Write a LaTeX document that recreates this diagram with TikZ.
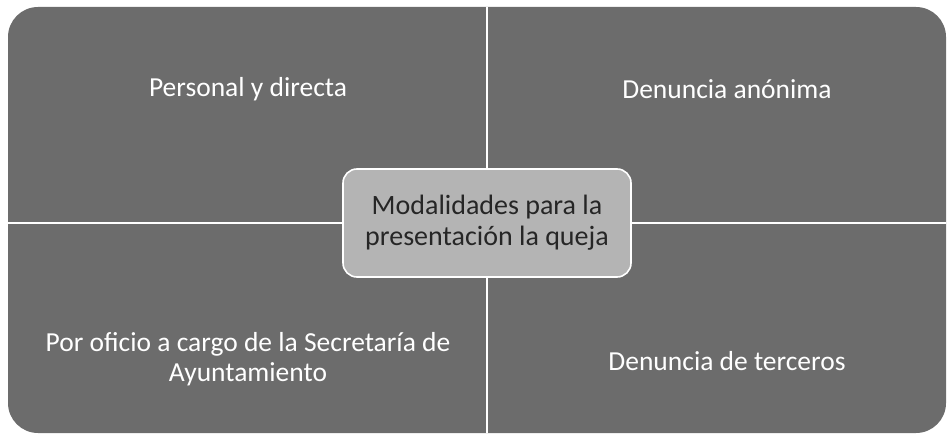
\documentclass[tikz,border=0pt]{standalone}
\usepackage{fontspec}
\setmainfont{Carlito}
\usetikzlibrary{positioning}

\definecolor{quadgray}{HTML}{6C6C6C}
\definecolor{hubgray}{HTML}{B4B4B4}
\tikzset{
  quadlabel/.style={text=white, font=\fontsize{27.5}{30}\selectfont, align=center},
  hubbox/.style={draw=white, line width=1.6pt, fill=hubgray, rounded corners=14pt,
    minimum width=288pt, minimum height=108pt, text=black!85,
    font=\fontsize{28}{31}\selectfont, align=center},
  divider/.style={white, line width=1.4pt}
}

\begin{document}
\begin{tikzpicture}[x=1pt, y=-1pt]
    \useasboundingbox (0,0) rectangle (952,435);

    \node[fill=quadgray, rounded corners=30pt, minimum width=938pt, minimum height=426pt] (bg) at (477,220) {};

    \node[hubbox] (hub) at (487,223) {Modalidades para la\\presentación la queja};

    % separators between the four fields
    \draw[divider] (hub.north) -- (hub.north |- bg.north);
    \draw[divider] (hub.south) -- (hub.south |- bg.south);
    \draw[divider] (hub.west) -- (hub.west -| bg.west);
    \draw[divider] (hub.east) -- (hub.east -| bg.east);

    \node[quadlabel] (pers) at (248,89) {Personal y directa};
    \node[quadlabel] (anon) at (727,89) {Denuncia anónima};
    \node[quadlabel] (ofic) at (248,359) {Por oficio a cargo de la Secretaría de\\Ayuntamiento};
    \node[quadlabel] (terc) at (727,361) {Denuncia de terceros};
\end{tikzpicture}
\end{document}
